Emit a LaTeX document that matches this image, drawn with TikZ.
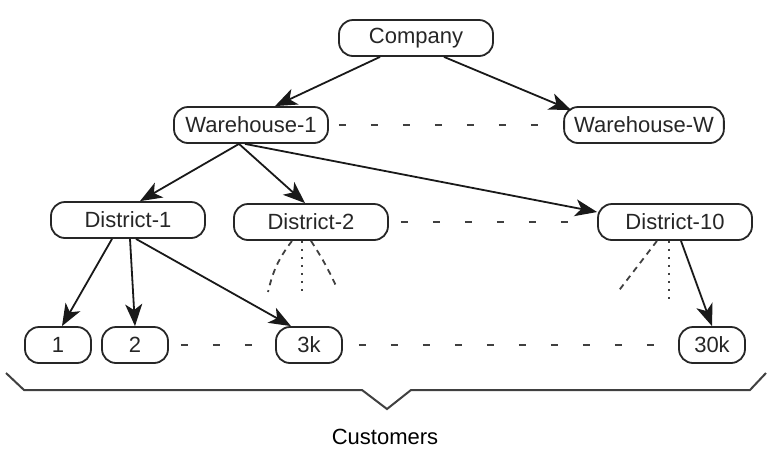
\documentclass[tikz,border=0pt]{standalone}
\usepackage{fontspec}
\setmainfont{Liberation Sans}
\usetikzlibrary{arrows.meta}

\begin{document}
\begin{tikzpicture}[x=0.5pt, y=-0.5pt, font=\fontsize{11}{13}\selectfont,
    box/.style={draw=black!85, line width=0.9pt, rounded corners=7pt, minimum width=77pt, minimum height=18pt, inner xsep=5pt, text=black!85},
    leaf/.style={box, minimum width=33pt},
    arrow/.style={-{Stealth[length=11pt, width=8.5pt, inset=3pt]}, line width=0.9pt, color=black!90},
    gapline/.style={draw=black!75, line width=0.9pt, dash pattern=on 3.5pt off 12.5pt},
    fanline/.style={draw=black!75, line width=0.9pt, dash pattern=on 3pt off 2.5pt},
    dotline/.style={draw=black!75, line width=1pt, dash pattern=on 1pt off 3pt}]

    \useasboundingbox (0,0) rectangle (772,452);

    % tree nodes
    \node (comp) [box] at (416,38) {Company};
    \node (wh1) [box] at (251,125) {Warehouse-1};
    \node (whw) [box] at (644,125) {Warehouse-W};
    \node (d1) [box] at (128,220) {District-1};
    \node (d2) [box] at (311,222) {District-2};
    \node (d10) [box] at (675,222) {District-10};
    \node (c1) [leaf] at (58,345) {1};
    \node (c2) [leaf] at (135,345) {2};
    \node (c3k) [leaf] at (309,345) {3k};
    \node (c30k) [leaf] at (712,345) {30k};
    \node (cust) at (385,437) {Customers};

    % free ends of the fans
    \coordinate (f2a) at (268,292);
    \coordinate (f2b) at (302,294);
    \coordinate (f2c) at (337,288);
    \coordinate (f10a) at (617,293);
    \coordinate (f10b) at (669,303);

    \draw [arrow] ([xshift=-18pt]comp.south) -- ([xshift=12pt]wh1.north);
    \draw [arrow] ([xshift=14pt]comp.south) -- ([xshift=4pt,yshift=-2pt]whw.north west);
    \draw [arrow] ([xshift=-6pt]wh1.south) -- ([xshift=6pt]d1.north);
    \draw [arrow] ([xshift=-6pt]wh1.south) -- ([xshift=-3pt]d2.north);
    \draw [arrow] ([xshift=-3pt]wh1.south) -- ([yshift=5pt]d10.west);
    \draw [arrow] ([xshift=-8pt]d1.south) -- ([xshift=2pt]c1.north);
    \draw [arrow] ([xshift=1pt]d1.south) -- (c2.north);
    \draw [arrow] ([xshift=4pt]d1.south) -- ([xshift=-9pt]c3k.north);
    \draw [arrow] ([xshift=3pt]d10.south) -- (c30k.north);

    % elided siblings
    \draw [gapline, shorten <=5pt, shorten >=4pt] (wh1.east) -- (whw.west);
    \draw [gapline, shorten <=6pt, shorten >=4pt] (d2.east) -- (d10.west);
    \draw [gapline, shorten <=6pt, shorten >=4pt] (c2.east) -- (c3k.west);
    \draw [gapline, shorten <=8pt, shorten >=4pt] (c3k.east) -- (c30k.west);

    \draw [fanline] ([xshift=-9.5pt]d2.south) to[bend right=12] (f2a);
    \draw [dotline] ([xshift=-4.5pt]d2.south) -- (f2b);
    \draw [fanline] ([xshift=0pt]d2.south) to[bend left=4] (f2c);
    \draw [fanline] ([xshift=-9pt]d10.south) -- (f10a);
    \draw [dotline] ([xshift=-3pt]d10.south) -- (f10b);

    % brace over the customers
    \draw [line width=1pt, color=black!75] (6,373) -- (24,390) -- (362,390) -- (387,409) -- (411,390) -- (750,390) -- (766,373);
\end{tikzpicture}
\end{document}
